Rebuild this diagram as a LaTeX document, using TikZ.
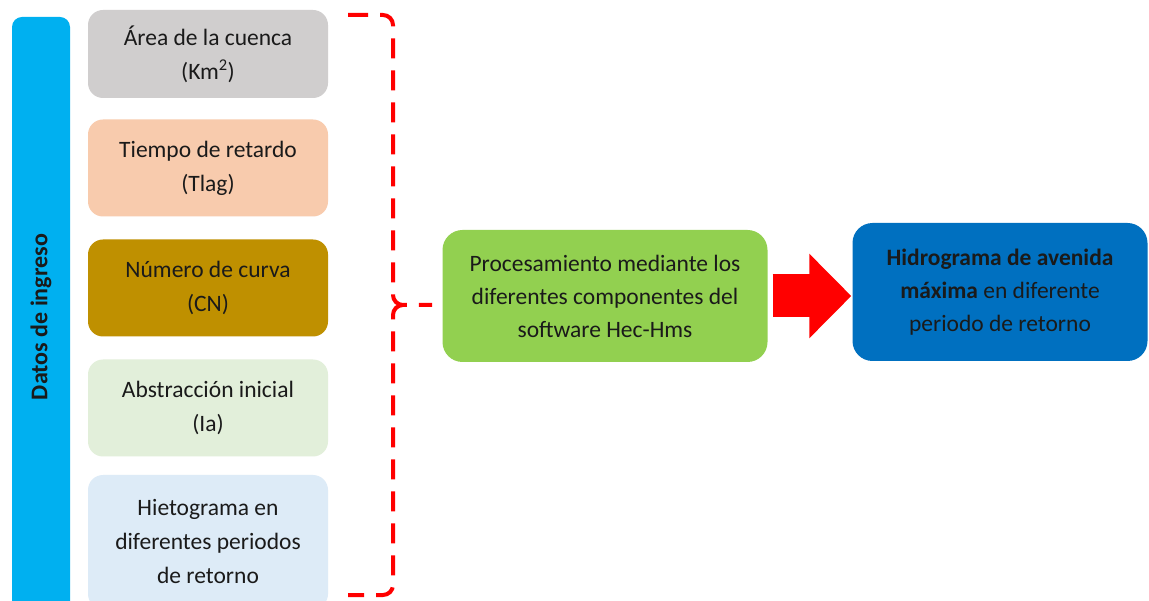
\documentclass[tikz,border=0pt]{standalone}
\usepackage{fontspec}
\setmainfont{Carlito}
\usepackage{tikz}
\usetikzlibrary{arrows.meta}
\definecolor{barblue}{HTML}{00B0F0}
\definecolor{grisbox}{HTML}{D0CECE}
\definecolor{peach}{HTML}{F8CBAD}
\definecolor{gold}{HTML}{BF9000}
\definecolor{palegreen}{HTML}{E2EFDA}
\definecolor{paleblue}{HTML}{DDEBF7}
\definecolor{procgreen}{HTML}{92D050}
\definecolor{hidroblue}{HTML}{0070C0}
\definecolor{ink}{HTML}{1A1A1A}
\tikzset{
  inbox/.style={rounded corners=15pt, minimum width=240pt, minimum height=97pt,
    align=center, text=ink, font=\fontsize{23.5}{34}\selectfont},
  bar/.style={fill=barblue, rounded corners=10pt, text=ink,
    font=\fontsize{24}{34}\selectfont\bfseries},
  bigbox/.style={rounded corners=20pt, align=center, text=ink,
    font=\fontsize{23.5}{33}\selectfont},
  brace/.style={draw=red, line width=4pt, dash pattern=on 20pt off 12pt},
  bigarrow/.style={draw=red, line width=43pt,
    -{Triangle[length=42pt,width=82pt]}},
}
\begin{document}
\begin{tikzpicture}[x=1pt,y=-1pt]
  \useasboundingbox[fill=white] (0,0) rectangle (1149,601);
  \node[bar, rotate=90, minimum width=600pt, minimum height=58pt] (datos) at (41,317) {Datos de ingreso};
  \foreach \name/\y/\h/\col/\txt in {
      area/54/88/grisbox/{Área de la cuenca\\(Km\textsuperscript{2})},
      tlag/168/97/peach/{Tiempo de retardo\\(Tlag)},
      cn/288/97/gold/{Número de curva\\(CN)},
      ia/408/97/palegreen/{Abstracción inicial\\(Ia)}}
    \node[inbox, fill=\col, minimum height=\h pt] (\name) at (208,\y) {\txt};
  \node[inbox, fill=paleblue, minimum height=134pt] (hieto) at (208,542)
    {Hietograma en\\diferentes periodos\\de retorno};
  % llave de datos de ingreso
  \draw[brace] (348,15) -- (383,15) to[out=0,in=90] (393,25) -- (393,295)
    to[out=-90,in=180] (403,305) -- (432,305);
  \draw[brace] (403,305) to[out=180,in=90] (393,315) -- (393,585)
    to[out=-90,in=0] (383,595) -- (348,595);
  \node[bigbox, fill=procgreen, minimum width=325pt, minimum height=132pt] (proc) at (605,296)
    {Procesamiento mediante los\\diferentes componentes del\\software Hec-Hms};
  \node[bigbox, fill=hidroblue, minimum width=295pt, minimum height=138pt] (hidro) at (1000,292)
    {\textbf{Hidrograma de avenida}\\\textbf{máxima} en diferente\\periodo de retorno};
  \draw[bigarrow, shorten <=5pt, shorten >=1pt] (proc.east) -- (proc.east -| hidro.west);
\end{tikzpicture}
\end{document}
